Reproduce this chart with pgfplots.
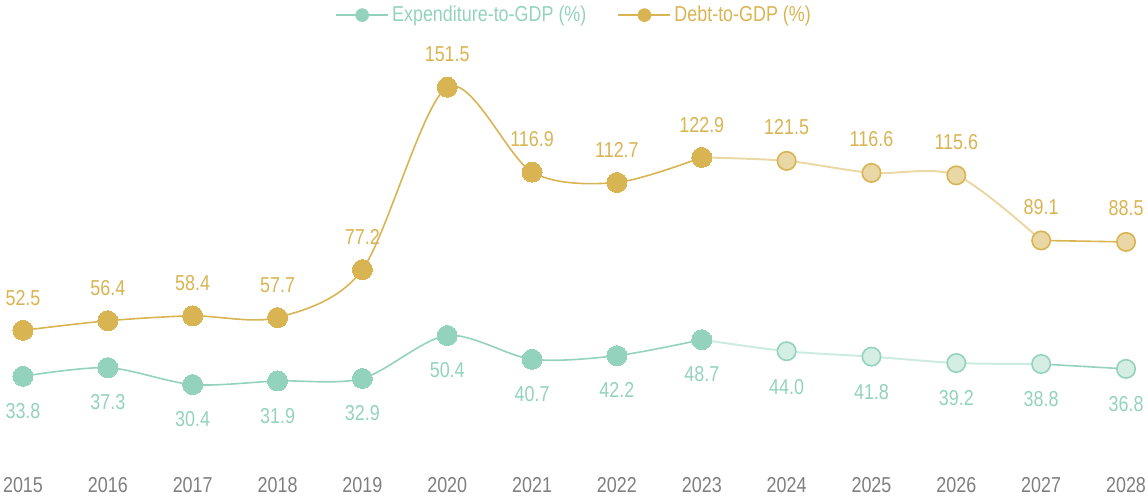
\documentclass[border=0pt]{standalone}
\usepackage{fontspec}
\setmainfont{Liberation Sans}[FakeStretch=0.83]
\usepackage{pgfplots}
\pgfplotsset{compat=1.18}
\definecolor{expC}{HTML}{93D3BD}
\definecolor{expL}{HTML}{D5EEE4}
\definecolor{expLL}{HTML}{CDEBDF}
\definecolor{debtC}{HTML}{D8B452}
\definecolor{debtL}{HTML}{E9D7A5}
\definecolor{debtLL}{HTML}{EAD8A6}
\definecolor{tickC}{HTML}{7F7F7F}
\newcommand{\lblfont}{\fontsize{10.8}{12}\selectfont}
\begin{document}
\begin{tikzpicture}
\begin{axis}[
  scale only axis, width=551.5pt, height=209.5pt,
  xmin=2015, xmax=2028, ymin=0, ymax=170.6,
  clip=false,
  axis line style={draw=none},
  major tick length=0pt,
  ytick=\empty,
  xtick={2015,2016,2017,2018,2019,2020,2021,2022,2023,2024,2025,2026,2027,2028},
  xticklabels={2015,2016,2017,2018,2019,2020,2021,2022,2023,2024,2025,2026,2027,2028},
  xticklabel style={font=\lblfont, text=tickC, anchor=north, inner sep=0pt, yshift=-9pt},
  /pgf/number format/assume math mode=true,
  /pgf/number format/fixed,
  /pgf/number format/fixed zerofill,
  /pgf/number format/precision=1,
  /pgf/number format/1000 sep={},
  legend columns=2,
  legend style={at={(0.5,1.06)}, anchor=center, draw=none, fill=none, inner sep=0pt,
    font=\lblfont, nodes={inner sep=1.5pt},
    /tikz/every even column/.append style={column sep=14pt}},
  legend cell align=left,
  smooth, tension=0.5,
]
\addlegendimage{legend image code/.code={\draw[expC, line width=1pt] (0pt,0pt)--(26pt,0pt); \fill[expC] (13pt,0pt) circle (3.2pt);}}
\addlegendentry{\textcolor{expC}{Expenditure-to-GDP (\%)}}
\addlegendimage{legend image code/.code={\draw[debtC, line width=1pt] (0pt,0pt)--(26pt,0pt); \fill[debtC] (13pt,0pt) circle (3.2pt);}}
\addlegendentry{\textcolor{debtC}{Debt-to-GDP (\%)}}

% bounding box
\path (axis cs:2014.729,-15.89) rectangle (axis cs:2028.259,187);

% Debt lines
\addplot[forget plot, no marks, debtC, line width=0.8pt] coordinates {
(2015,52.5) (2016,56.4) (2017,58.4) (2018,57.7) (2019,77.2) (2020,151.5) (2021,116.9) (2022,112.7) (2023,122.9)};
\addplot[forget plot, no marks, debtLL, line width=1pt] coordinates {
(2023,122.9) (2024,121.5) (2025,116.6) (2026,115.6) (2027,89.1)};
\addplot[forget plot, no marks, debtC, line width=0.8pt] coordinates {
(2027,89.1) (2028,88.5)};

% Expenditure lines
\addplot[forget plot, no marks, expC, line width=0.8pt] coordinates {
(2015,33.8) (2016,37.3) (2017,30.4) (2018,31.9) (2019,32.9) (2020,50.4) (2021,40.7) (2022,42.2) (2023,48.7)};
\addplot[forget plot, no marks, expLL, line width=1pt] coordinates {
(2023,48.7) (2024,44.0) (2025,41.8) (2026,39.2) (2027,38.8)};
\addplot[forget plot, no marks, expC, line width=0.8pt] coordinates {
(2027,38.8) (2028,36.8)};

% Debt markers
\addplot[forget plot, only marks, mark=*, mark size=5pt, mark options={fill=debtC, draw=debtC, line width=0pt},
  nodes near coords, every node near coord/.append style={anchor=south, inner sep=0pt, yshift=12.5pt, font=\lblfont, text=debtC}]
  coordinates {(2015,52.5) (2016,56.4) (2017,58.4) (2018,57.7) (2019,77.2) (2020,151.5) (2021,116.9) (2022,112.7) (2023,122.9)};
\addplot[forget plot, only marks, mark=*, mark size=4.6pt, mark options={fill=debtL, draw=debtC, line width=0.8pt},
  nodes near coords, every node near coord/.append style={anchor=south, inner sep=0pt, yshift=12.5pt, font=\lblfont, text=debtC}]
  coordinates {(2024,121.5) (2025,116.6) (2026,115.6) (2027,89.1) (2028,88.5)};

% Expenditure markers
\addplot[forget plot, only marks, mark=*, mark size=5pt, mark options={fill=expC, draw=expC, line width=0pt},
  nodes near coords, every node near coord/.append style={anchor=north, inner sep=0pt, yshift=-13.5pt, font=\lblfont, text=expC}]
  coordinates {(2015,33.8) (2016,37.3) (2017,30.4) (2018,31.9) (2019,32.9) (2020,50.4) (2021,40.7) (2022,42.2) (2023,48.7)};
\addplot[forget plot, only marks, mark=*, mark size=4.6pt, mark options={fill=expL, draw=expC, line width=0.8pt},
  nodes near coords, every node near coord/.append style={anchor=north, inner sep=0pt, yshift=-13.5pt, font=\lblfont, text=expC}]
  coordinates {(2024,44.0) (2025,41.8) (2026,39.2) (2027,38.8) (2028,36.8)};
\end{axis}
\end{tikzpicture}
\end{document}
